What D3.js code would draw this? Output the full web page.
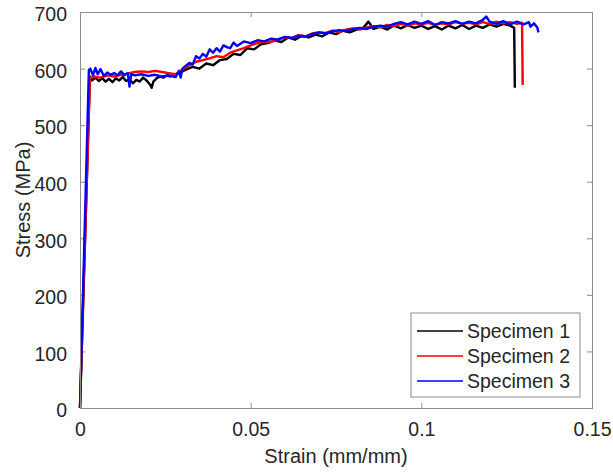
<!DOCTYPE html>
<html>
<head>
<meta charset="utf-8">
<script src="https://d3js.org/d3.v7.min.js"></script>
<style>
  body { margin: 0; background: #fff; }
  text { font-family: "Liberation Sans", Arial, sans-serif; fill: #262626; }
  .frame { fill: none; stroke: #8c8c8c; stroke-width: 1; }
  .tick line { stroke: #8c8c8c; }
</style>
</head>
<body>
<svg id="chart"></svg>
<script>
const WIDTH  = 613;
const HEIGHT = 474;
const MARGIN = { top: 12, right: 21, bottom: 66, left: 80 };
const INNER_WIDTH  = WIDTH - MARGIN.left - MARGIN.right;
const INNER_HEIGHT = HEIGHT - MARGIN.top - MARGIN.bottom;

// data: [strain, stress]
const specimenNames = ['Specimen 1', 'Specimen 2', 'Specimen 3'];
const xTicks = [0, 0.05, 0.1, 0.15];
const yTicks = [0, 100, 200, 300, 400, 500, 600, 700];

const specimen1 = [[0,0],[0.0029,586],[0.0035,579],[0.0045,584],[0.0055,578],[0.0065,583],[0.0075,577],[0.0085,582],[0.0095,576],[0.0105,583],[0.0115,579],[0.0125,585],[0.0135,578],[0.0145,581],[0.0155,574],[0.0165,580],[0.0175,577],[0.0185,584],[0.0195,579],[0.0205,572],[0.021,566],[0.0215,577],[0.0225,583],[0.0235,586],[0.0245,584],[0.0255,588],[0.0265,586],[0.0275,589],[0.029,592],[0.031,598],[0.033,603],[0.035,600],[0.037,609],[0.039,606],[0.041,615],[0.043,617],[0.045,626],[0.047,624],[0.049,636],[0.051,634],[0.053,643],[0.055,645],[0.057,650],[0.059,647],[0.061,655],[0.063,651],[0.065,658],[0.067,655],[0.069,660],[0.071,657],[0.073,664],[0.075,661],[0.077,667],[0.079,664],[0.081,669],[0.083,672],[0.0845,683],[0.086,670],[0.088,674],[0.090,669],[0.092,676],[0.094,671],[0.096,677],[0.098,672],[0.100,676],[0.102,670],[0.104,675],[0.106,669],[0.108,676],[0.110,671],[0.112,677],[0.114,670],[0.116,676],[0.118,672],[0.120,678],[0.122,674],[0.124,679],[0.126,676],[0.1272,672],[0.1274,566]];

const specimen2 = [[0,0],[0.0029,582],[0.004,586],[0.006,584],[0.008,588],[0.010,586],[0.012,589],[0.014,591],[0.016,594],[0.018,595],[0.020,594],[0.022,596],[0.024,594],[0.026,592],[0.028,590],[0.030,598],[0.032,606],[0.034,612],[0.036,615],[0.038,618],[0.040,622],[0.042,620],[0.044,628],[0.046,632],[0.048,636],[0.050,641],[0.052,645],[0.054,648],[0.056,647],[0.058,652],[0.060,655],[0.062,654],[0.064,659],[0.066,657],[0.068,662],[0.070,664],[0.072,663],[0.074,667],[0.076,665],[0.078,669],[0.080,671],[0.082,669],[0.084,673],[0.086,675],[0.088,673],[0.090,677],[0.092,675],[0.094,679],[0.096,676],[0.098,680],[0.100,678],[0.102,681],[0.104,677],[0.106,680],[0.108,678],[0.110,682],[0.112,679],[0.114,681],[0.116,678],[0.118,682],[0.120,679],[0.122,683],[0.124,680],[0.126,682],[0.128,679],[0.1295,681],[0.1297,571]];

const specimen3 = [[0,0],[0.0026,597],[0.003,600],[0.0038,588],[0.0045,601],[0.0052,590],[0.006,599],[0.007,587],[0.008,593],[0.009,589],[0.010,592],[0.011,588],[0.012,595],[0.013,588],[0.014,592],[0.0145,568],[0.015,590],[0.016,588],[0.018,590],[0.020,587],[0.022,589],[0.024,586],[0.026,588],[0.028,585],[0.029,596],[0.0295,584],[0.030,600],[0.032,610],[0.033,607],[0.034,622],[0.035,618],[0.036,626],[0.037,621],[0.038,634],[0.039,628],[0.040,636],[0.041,630],[0.042,641],[0.043,638],[0.044,636],[0.045,646],[0.046,640],[0.048,648],[0.050,645],[0.052,650],[0.054,648],[0.056,653],[0.058,651],[0.060,656],[0.062,654],[0.064,658],[0.066,656],[0.068,661],[0.070,664],[0.072,662],[0.074,666],[0.076,668],[0.078,666],[0.080,670],[0.082,672],[0.084,670],[0.086,674],[0.088,676],[0.090,674],[0.092,679],[0.094,682],[0.096,678],[0.098,683],[0.100,679],[0.102,684],[0.104,677],[0.106,682],[0.108,680],[0.110,684],[0.112,679],[0.114,683],[0.116,680],[0.118,686],[0.119,692],[0.120,683],[0.122,679],[0.124,684],[0.126,678],[0.128,683],[0.130,678],[0.1315,682],[0.132,674],[0.133,680],[0.134,672],[0.1343,664]];

const series = [specimen1, specimen2, specimen3];
const COLORS = ['#000000', '#ff0000', '#0000ff'];

const svg = d3.select('#chart')
  .attr('width', WIDTH)
  .attr('height', HEIGHT);

const g = svg.append('g')
  .attr('transform', 'translate(' + MARGIN.left + ',' + MARGIN.top + ')');

const x = d3.scaleLinear().domain([0, 0.15]).range([0, INNER_WIDTH]);
const y = d3.scaleLinear().domain([0, 700]).range([INNER_HEIGHT, 0]);

// axes with inward ticks (box on)
g.append('g')
  .attr('transform', 'translate(0,' + INNER_HEIGHT + ')')
  .call(d3.axisBottom(x).tickValues(xTicks).tickSizeInner(-5).tickSizeOuter(0).tickPadding(14).tickFormat(d => d))
  .call(a => a.select('.domain').remove())
  .selectAll('text').attr('font-size', 19.5).attr('dy', '0.71em');

g.append('g')
  .call(d3.axisLeft(y).tickValues(yTicks).tickSizeInner(-5).tickSizeOuter(0).tickPadding(13))
  .call(a => a.select('.domain').remove())
  .selectAll('text').attr('font-size', 19.5).attr('dy', '0.45em');

g.append('g')
  .call(d3.axisTop(x).tickValues(xTicks).tickSizeInner(-5).tickSizeOuter(0).tickFormat(''))
  .call(a => a.select('.domain').remove());

g.append('g')
  .attr('transform', 'translate(' + INNER_WIDTH + ',0)')
  .call(d3.axisRight(y).tickValues(yTicks).tickSizeInner(-5).tickSizeOuter(0).tickFormat(''))
  .call(a => a.select('.domain').remove());

g.selectAll('.tick text').attr('fill', '#262626');

const line = d3.line()
  .x(d => x(d[0]))
  .y(d => y(d[1]));

g.selectAll('path.curve')
  .data(series)
  .join('path')
    .attr('class', 'curve')
    .attr('d', line)
    .attr('fill', 'none')
    .attr('stroke', (d, i) => COLORS[i])
    .attr('stroke-width', 2.4)
    .attr('stroke-linejoin', 'round');

g.append('rect')
  .attr('class', 'frame')
  .attr('x', 0.5)
  .attr('y', 0.5)
  .attr('width', INNER_WIDTH)
  .attr('height', INNER_HEIGHT);

// legend
const legend = g.append('g')
  .attr('transform', 'translate(' + (INNER_WIDTH - 181) + ',' + (INNER_HEIGHT - 95) + ')');

legend.append('rect')
  .attr('width', 169)
  .attr('height', 84)
  .attr('fill', '#fff')
  .attr('stroke', '#8c8c8c');

specimenNames.forEach((name, i) => {
  const row = legend.append('g').attr('transform', 'translate(0,' + (18 + i * 25) + ')');
  row.append('line')
    .attr('x1', 6).attr('x2', 52)
    .attr('stroke', COLORS[i]).attr('stroke-width', 1.5);
  row.append('text')
    .attr('x', 56)
    .attr('dy', '0.36em')
    .attr('font-size', 19.5)
    .text(name);
});

// axis titles
svg.append('text')
  .attr('x', MARGIN.left + INNER_WIDTH / 2)
  .attr('y', 463)
  .attr('text-anchor', 'middle')
  .attr('font-size', 20)
  .text('Strain (mm/mm)');

svg.append('text')
  .attr('transform', 'translate(30,' + (MARGIN.top + INNER_HEIGHT / 2 - 10) + ') rotate(-90)')
  .attr('text-anchor', 'middle')
  .attr('font-size', 20)
  .text('Stress (MPa)');
</script>
</body>
</html>
